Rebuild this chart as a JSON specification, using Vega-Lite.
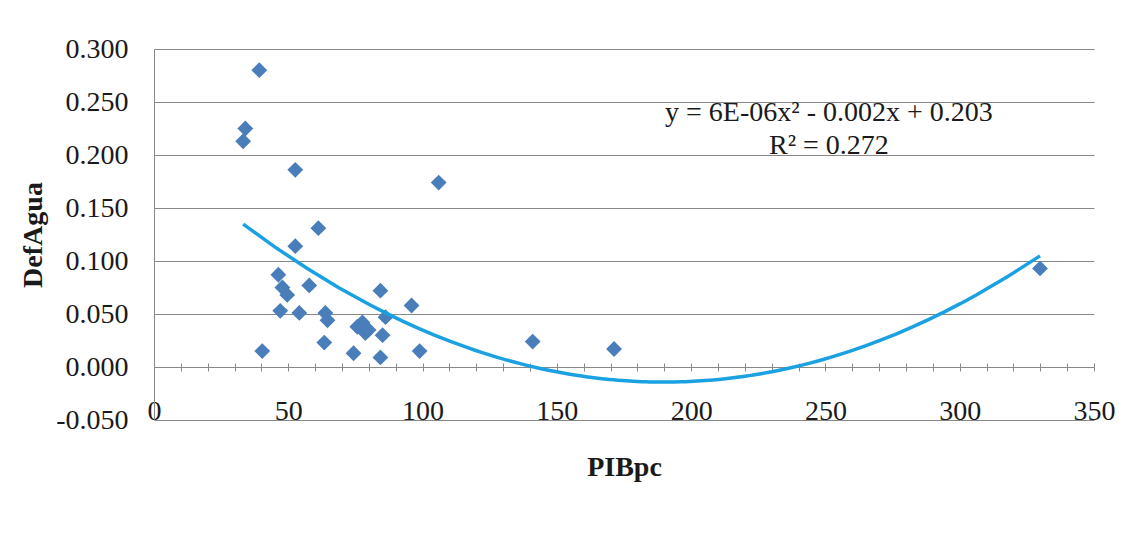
{
  "$schema": "https://vega.github.io/schema/vega-lite/v6.json",
  "autosize": "none",
  "width": 940,
  "height": 371,
  "padding": {"left": 154, "top": 49, "right": 36, "bottom": 113},
  "background": "white",
  "config": {
    "view": {"stroke": null},
    "font": "Times New Roman, Liberation Serif, serif",
    "axis": {"labelFont": "Times New Roman, Liberation Serif, serif", "titleFont": "Times New Roman, Liberation Serif, serif", "labelColor": "#1a1a1a", "titleColor": "#1a1a1a"}
  },
  "datasets": {
    "pts": [
      {"x": 39.2, "y": 0.280}, {"x": 34.0, "y": 0.225}, {"x": 33.2, "y": 0.213}, {"x": 52.6, "y": 0.186},
      {"x": 106.0, "y": 0.174}, {"x": 61.2, "y": 0.131}, {"x": 52.6, "y": 0.114}, {"x": 46.3, "y": 0.087},
      {"x": 47.8, "y": 0.075}, {"x": 49.6, "y": 0.068}, {"x": 47.0, "y": 0.053}, {"x": 54.1, "y": 0.051},
      {"x": 57.8, "y": 0.077}, {"x": 40.3, "y": 0.015}, {"x": 63.4, "y": 0.023}, {"x": 63.8, "y": 0.051},
      {"x": 64.6, "y": 0.044}, {"x": 74.3, "y": 0.013}, {"x": 75.7, "y": 0.038}, {"x": 77.6, "y": 0.042},
      {"x": 78.7, "y": 0.032}, {"x": 79.9, "y": 0.035}, {"x": 84.3, "y": 0.072}, {"x": 86.2, "y": 0.047},
      {"x": 85.1, "y": 0.030}, {"x": 84.3, "y": 0.009}, {"x": 95.9, "y": 0.058}, {"x": 98.9, "y": 0.015},
      {"x": 141.0, "y": 0.024}, {"x": 171.3, "y": 0.017}, {"x": 329.9, "y": 0.093}
    ],
    "notes": [
      {"x": 251.3, "y": 0.2395, "label": "y = 6E-06x² - 0.002x + 0.203"},
      {"x": 251.3, "y": 0.2085, "label": "R² = 0.272"}
    ]
  },
  "resolve": {"axis": {"x": "independent"}},
  "layer": [
    {
      "data": {"name": "pts"},
      "mark": {"type": "point", "shape": "diamond", "filled": true, "size": 250, "color": "#4a7ebb", "opacity": 1},
      "encoding": {
        "x": {
          "field": "x", "type": "quantitative",
          "scale": {"domain": [0, 350], "nice": false, "zero": false},
          "axis": {
            "orient": "bottom", "title": "PIBpc", "titleFontSize": 28, "titleFontWeight": "bold",
            "titleY": 47, "titleBaseline": "middle",
            "values": [0, 50, 100, 150, 200, 250, 300, 350],
            "domain": false, "ticks": false, "tickSize": 0, "grid": false,
            "labelPadding": -1, "labelBaseline": "alphabetic", "labelFontSize": 28,
            "labelFlush": false, "labelOverlap": false
          }
        },
        "y": {
          "field": "y", "type": "quantitative",
          "scale": {"domain": [-0.05, 0.3], "nice": false, "zero": false},
          "axis": {
            "title": "DefAgua", "titleFontSize": 28, "titleFontWeight": "bold",
            "titleX": -121, "titleY": 185.5, "titleAlign": "center", "titleBaseline": "middle",
            "values": [-0.05, 0, 0.05, 0.1, 0.15, 0.2, 0.25, 0.3],
            "labelExpr": "datum.value < 0 ? '-' + format(-datum.value, '.3f') : format(datum.value, '.3f')",
            "labelFontSize": 28, "labelPadding": 26, "ticks": false, "tickSize": 0,
            "domain": true, "domainColor": "#888888", "grid": true, "gridColor": "#888888",
            "labelFlush": false, "labelOverlap": false
          }
        }
      }
    },
    {
      "data": {"name": "pts"},
      "transform": [{"regression": "y", "on": "x", "method": "poly", "order": 2}],
      "mark": {"type": "line", "color": "#1ba1e2", "strokeWidth": 3.5},
      "encoding": {
        "x": {
          "field": "x", "type": "quantitative",
          "axis": {
            "orient": "bottom", "offset": -53, "title": null, "labels": false,
            "values": [10, 20, 30, 40, 50, 60, 70, 80, 90, 100, 110, 120, 130, 140, 150, 160, 170, 180, 190, 200, 210, 220, 230, 240, 250, 260, 270, 280, 290, 300, 310, 320, 330, 340, 350],
            "domain": true, "domainColor": "#888888", "ticks": true, "tickSize": 4, "tickColor": "#888888", "grid": false
          }
        },
        "y": {"field": "y", "type": "quantitative"}
      }
    },
    {
      "data": {"name": "notes"},
      "mark": {"type": "text", "font": "Times New Roman, Liberation Serif, serif", "fontSize": 28, "color": "#1a1a1a", "align": "center", "baseline": "middle"},
      "encoding": {
        "x": {
          "field": "x", "type": "quantitative",
          "axis": {
            "orient": "top", "offset": -318, "title": null, "labels": false,
            "values": [10, 20, 30, 40, 50, 60, 70, 80, 90, 100, 110, 120, 130, 140, 150, 160, 170, 180, 190, 200, 210, 220, 230, 240, 250, 260, 270, 280, 290, 300, 310, 320, 330, 340, 350],
            "domain": false, "ticks": true, "tickSize": 4, "tickColor": "#888888", "grid": false
          }
        },
        "y": {"field": "y", "type": "quantitative"},
        "text": {"field": "label"}
      }
    }
  ]
}
